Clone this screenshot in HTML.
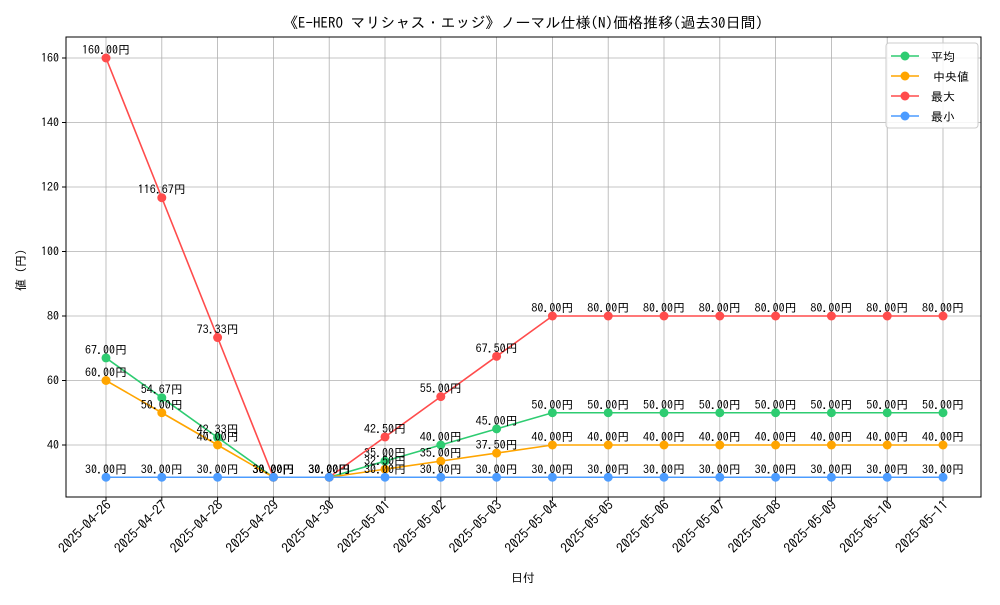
<!DOCTYPE html>
<html><head><meta charset="utf-8"><style>
body{margin:0;background:#fff;}
svg text{font-family:"IPAGothic","Liberation Sans","Noto Sans CJK JP",sans-serif;}
</style></head><body>
<svg id="chart" width="1000" height="600" xmlns="http://www.w3.org/2000/svg">
<rect width="1000" height="600" fill="#fff"/>
<text x="523" y="28" font-size="15" text-anchor="middle">《E-HERO マリシャス・エッジ》ノーマル仕様(N)価格推移(過去30日間)</text>
<g id="grid"></g>
<g id="axes"></g>
<g id="series"></g>
<text x="523" y="582" font-size="12" text-anchor="middle">日付</text>
<text transform="translate(25,270) rotate(-90)" font-size="12" text-anchor="middle">値 (円)</text>
<g>
<rect x="886" y="43" width="92" height="85" rx="3" fill="#fff" fill-opacity="0.85" stroke="#ccc"/>
<g id="legend-items"></g>
</g>
</svg>
<script>
const dates=["2025-04-26","2025-04-27","2025-04-28","2025-04-29","2025-04-30","2025-05-01","2025-05-02","2025-05-03","2025-05-04","2025-05-05","2025-05-06","2025-05-07","2025-05-08","2025-05-09","2025-05-10","2025-05-11"];
const avgVals=[67,54.67,42.33,30,30,35,40,45,50,50,50,50,50,50,50,50];
const medVals=[60,50,40,30,30,32.5,35,37.5,40,40,40,40,40,40,40,40];
const maxVals=[160,116.67,73.33,30,30,42.5,55,67.5,80,80,80,80,80,80,80,80];
const minVals=[30,30,30,30,30,30,30,30,30,30,30,30,30,30,30,30];
const yTicks=[40,60,80,100,120,140,160];
const seriesNames=["平均","中央値","最大","最小"];
const NS="http://www.w3.org/2000/svg";
const L=66,R=981,T=37,B=497;
function x(i){return 106+i*(943-106)/(dates.length-1);}
function y(v){return 445-(v-40)*(445-58)/120;}
function mk(tag,attrs,parent){const e=document.createElementNS(NS,tag);for(const k in attrs)e.setAttribute(k,attrs[k]);parent.appendChild(e);return e;}
const grid=document.getElementById('grid'),axes=document.getElementById('axes'),ser=document.getElementById('series');
dates.forEach((d,i)=>{
 const g=mk('line',{x1:x(i),x2:x(i),y1:T,y2:B,stroke:'#b0b0b0','stroke-width':0.8},grid);
 
 mk('line',{x1:x(i),x2:x(i),y1:B,y2:B+4,stroke:'#000'},axes);
 const t=mk('text',{x:0,y:0,'font-size':13.5,'text-anchor':'end',transform:`translate(${x(i)+6},${B+9}) rotate(-45)`},axes);
 t.textContent=d;
});
yTicks.forEach(v=>{
 const g=mk('line',{x1:L,x2:R,y1:y(v),y2:y(v),stroke:'#b0b0b0','stroke-width':0.8},grid);
 
 mk('line',{x1:L-4,x2:L,y1:y(v),y2:y(v),stroke:'#000'},axes);
 const t=mk('text',{x:L-7,y:y(v)+4,'font-size':12,'text-anchor':'end'},axes);
 t.textContent=v;
});
const fr=mk('rect',{x:L,y:T,width:R-L,height:B-T,fill:'none',stroke:'#000','stroke-width':1},axes);

const all=[[avgVals,'#2ecc71'],[medVals,'#ffa500'],[maxVals,'#ff4c4c'],[minVals,'#4c9cff']];
all.forEach(([vals,col],si)=>{
 const g=mk('g',{},ser);
 
 mk('polyline',{points:vals.map((v,i)=>x(i)+','+y(v)).join(' '),fill:'none',stroke:col,'stroke-width':1.6},g);
 vals.forEach((v,i)=>{
  const c=mk('circle',{cx:x(i),cy:y(v),r:4.5,fill:col},g);
  
  const t=mk('text',{x:x(i),y:y(v)-4,'font-size':12,'text-anchor':'middle'},g);
  t.textContent=v.toFixed(2)+'円';
 });
});
const li=document.getElementById('legend-items');
all.forEach(([v,col],i)=>{
 const yy=56+i*20;
 const g=mk('g',{},li);
 
 mk('line',{x1:891,x2:919,y1:yy,y2:yy,stroke:col,'stroke-width':1.6},g);
 mk('circle',{cx:905,cy:yy,r:4.5,fill:col},g);
 const t=mk('text',{x:i==1?933:931,y:yy+5,'font-size':12},g);t.textContent=seriesNames[i];
});
</script>
</body></html>
